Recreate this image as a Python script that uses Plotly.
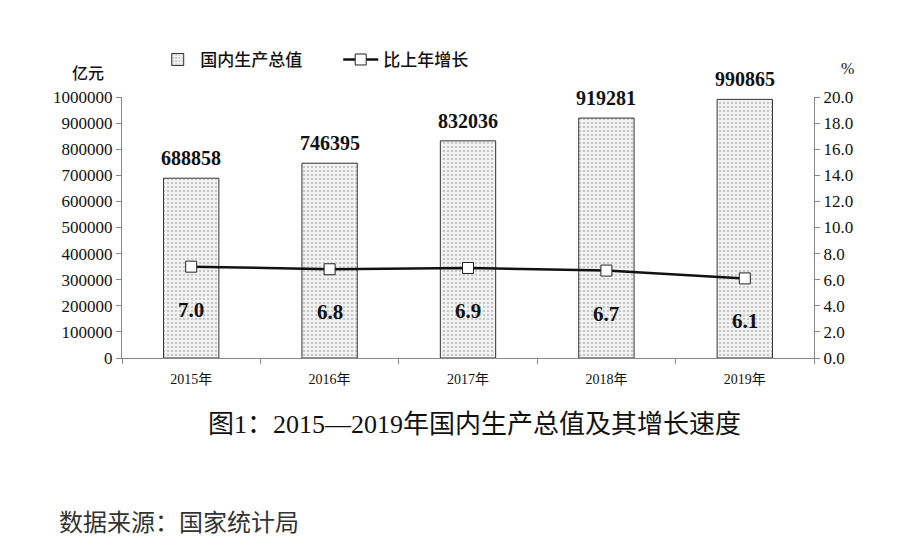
import plotly.graph_objects as go

years = ["2015年", "2016年", "2017年", "2018年", "2019年"]
gdp = [688858, 746395, 832036, 919281, 990865]
growth = [7.0, 6.8, 6.9, 6.7, 6.1]
left_ticks = [0, 100000, 200000, 300000, 400000, 500000, 600000, 700000, 800000, 900000, 1000000]
right_ticks = [0, 2, 4, 6, 8, 10, 12, 14, 16, 18, 20]

serif = "Liberation Serif, Noto Sans CJK SC, serif"
cjk = "Noto Sans CJK SC, sans-serif"

fig = go.Figure()
fig.add_trace(go.Bar(
    x=years, y=gdp, name="国内生产总值", width=0.4,
    marker=dict(color="white", line=dict(color="#333333", width=1),
                pattern=dict(shape=".", fgcolor="#9a9a9a", bgcolor="#f4f4f4", size=4, solidity=0.3)),
))
fig.add_trace(go.Scatter(
    x=years, y=growth, name="比上年增长", yaxis="y2", mode="lines+markers",
    line=dict(color="#111111", width=2.5),
    marker=dict(symbol="square", size=11, color="white", line=dict(color="#222222", width=1)),
))
for yr, v in zip(years, gdp):
    fig.add_annotation(x=yr, y=v, text=str(v), showarrow=False, xanchor="center", yanchor="middle",
                       yshift=20, font=dict(family=serif, size=20, color="#111111", weight="bold"))
for yr, g in zip(years, growth):
    fig.add_annotation(x=yr, y=g, yref="y2", text=f"{g:.1f}", showarrow=False,
                       xanchor="center", yanchor="middle",
                       yshift=-43, font=dict(family=serif, size=21, color="#111111", weight="bold"))

fig.add_annotation(xref="paper", yref="paper", x=-0.0491, y=1.0958, text="亿元", showarrow=False,
                   xanchor="center", yanchor="middle",
                   font=dict(family=cjk, size=16, color="#111111", weight=500))
fig.add_annotation(xref="paper", yref="paper", x=1.0477, y=1.111, text="%", showarrow=False,
                   xanchor="center", yanchor="middle",
                   font=dict(family=serif, size=16, color="#111111"))
fig.add_annotation(xref="paper", yref="paper", x=0.5087, y=-0.2567,
                   text="图1：2015—2019年国内生产总值及其增长速度",
                   showarrow=False, xanchor="center", yanchor="middle",
                   font=dict(family=serif, size=26, color="#111111"))
fig.add_annotation(xref="paper", yref="paper", x=-0.0939, y=-0.6245, xanchor="left", yanchor="middle",
                   text="数据来源：国家统计局", showarrow=False,
                   font=dict(family=cjk, size=24, color="#333333"))

fig.update_layout(
    width=899, height=548,
    margin=dict(l=114, r=93, t=89, b=198),
    plot_bgcolor="white", paper_bgcolor="white",
    showlegend=True,
    legend=dict(orientation="h", x=0.048, y=1.142, xanchor="left", yanchor="middle",
                font=dict(family=cjk, size=17, color="#111111", weight=500),
                itemwidth=35, entrywidthmode="pixels", entrywidth=133),
    xaxis=dict(showline=True, linecolor="#888888", linewidth=1, ticks="outside", tickcolor="#888888",
               ticklen=5, tickson="boundaries", showgrid=False, ticklabelstandoff=8,
               tickfont=dict(family=serif, size=14, color="#111111")),
    yaxis=dict(range=[0, 1000000], tickvals=left_ticks, ticktext=[str(v) for v in left_ticks],
               showline=True, linecolor="#888888", linewidth=1, ticks="outside", tickcolor="#888888",
               ticklen=5, showgrid=False, zeroline=False,
               tickfont=dict(family=serif, size=17, color="#111111")),
    yaxis2=dict(range=[0, 20], tickvals=right_ticks, ticktext=[f"{v:.1f}" for v in right_ticks],
                overlaying="y", side="right",
                showline=True, linecolor="#888888", linewidth=1, ticks="outside", tickcolor="#888888",
                ticklen=5, showgrid=False, zeroline=False,
                tickfont=dict(family=serif, size=17, color="#111111")),
)

fig.write_html("out.html")
